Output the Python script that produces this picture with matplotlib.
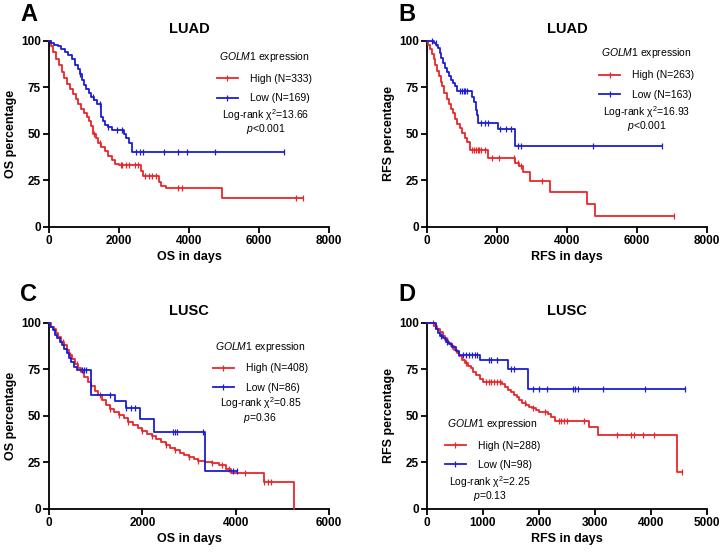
import numpy as np
import matplotlib
matplotlib.use("Agg")
import matplotlib.pyplot as plt
from matplotlib.lines import Line2D

plt.rcParams['font.family'] = ['Liberation Sans', 'DejaVu Sans']
plt.rcParams['mathtext.fontset'] = 'custom'
plt.rcParams['mathtext.it'] = 'Liberation Sans:italic'
plt.rcParams['mathtext.rm'] = 'Liberation Sans'

RED = '#e8262b'
BLUE = '#1c1cd6'

# ---- Panel A: LUAD OS ----
a_high_t = [0, 50, 120, 200, 280, 360, 440, 520, 600, 680, 760, 840, 920, 1000, 1080, 1150,
            1200, 1260, 1330, 1410, 1500, 1600, 1700, 1800, 1900, 2000, 2620, 2680, 3150, 3200,
            3350, 4950]
a_high_s = [100, 97, 94, 90, 87, 83.5, 80, 77, 74, 71.5, 68.5, 66, 63.5, 61, 59, 57,
            54, 50, 48, 45, 43, 41, 38, 36, 34, 33, 30, 27.5, 24, 22, 20.8, 15.7]
a_high_end = 7250
a_high_cens = [1300, 1450, 2050, 2100, 2200, 2300, 2450, 2550, 2750, 2850, 2950, 3050, 3700,
               3800, 7050, 7250]
a_low_t = [0, 60, 150, 250, 350, 450, 550, 650, 750, 820, 880, 950, 1000, 1060, 1130, 1200,
           1280, 1380, 1500, 1540, 1600, 1700, 1800, 2150, 2200, 2300, 2380]
a_low_s = [100, 99, 98, 97, 95.5, 94, 92.5, 90, 87, 85, 82, 79, 76, 74, 72, 70,
           68, 66, 59, 57, 55, 53.5, 52, 50, 48, 45, 40]
a_low_end = 6700
a_low_cens = [900, 1250, 1450, 1700, 1950, 2100, 2500, 2600, 2700, 3300, 3700, 3950, 4750, 6700]

# ---- Panel B: LUAD RFS ----
b_high_t = [0, 40, 90, 140, 190, 240, 290, 340, 390, 440, 500, 560, 620, 680, 740, 800, 870,
            940, 1010, 1080, 1150, 1230, 1750, 2520, 2620, 2750, 2940, 3520, 4580, 4800]
b_high_s = [100, 98, 95.5, 93, 90, 87, 84, 81, 78, 75.5, 72, 69, 66, 63.5, 61, 58, 55.5,
            53, 50.5, 48, 45.5, 41.5, 37, 34.5, 32.5, 29.5, 24.5, 18.5, 12.3, 6.1]
b_high_end = 7050
b_high_cens = [1300, 1350, 1400, 1450, 1500, 1550, 1650, 1850, 2050, 2500, 2600, 2700, 3300,
               7050]
b_low_t = [0, 200, 260, 310, 360, 410, 460, 510, 560, 620, 680, 740, 800, 860, 1300, 1350,
           1400, 1440, 1470, 2030, 2520]
b_low_s = [100, 99, 98, 96, 93.5, 91, 88, 85.5, 83, 81, 79, 77.5, 75.5, 73, 70, 67,
           63, 60, 56, 52.5, 43.5]
b_low_end = 6700
b_low_cens = [150, 250, 950, 1000, 1050, 1100, 1150, 1550, 1650, 1750, 2100, 2250, 2400, 2600,
              2700, 4750, 6700]

# ---- Panel C: LUSC OS ----
c_high_t = [0, 50, 100, 150, 200, 260, 320, 380, 440, 500, 560, 620, 690, 760, 830, 900, 980,
            1060, 1140, 1220, 1300, 1400, 1500, 1600, 1700, 1800, 1900, 2000, 2100, 2200, 2300,
            2400, 2500, 2600, 2700, 2800, 2900, 3000, 3100, 3200, 3350, 3500, 3650, 3800, 3900,
            4600, 5260]
c_high_s = [100, 98, 96.5, 94.5, 92.5, 90, 88, 85.5, 83, 80.5, 78, 76, 73.5, 71, 68.5, 66, 63.5,
            61, 58.5, 56, 53.5, 52, 50.5, 49, 47, 45, 43.5, 42, 40.5, 39, 37.5,
            36, 34.5, 33, 31.5, 30, 29, 28, 27, 26, 25, 24.5, 23.5, 21.5, 19.5,
            14.3, 0]
c_high_end = 5260
c_high_cens = [300, 450, 600, 900, 1100, 1300, 1500, 1700, 2000, 2200, 2500, 2700, 3000, 3200,
               3500, 3700, 3850, 4200, 4600, 4700, 4750]
c_low_t = [0, 30, 80, 130, 180, 230, 280, 330, 380, 430, 480, 540, 600, 910, 1420, 1640, 1960,
           2250, 3350]
c_low_s = [100, 98, 96, 93.5, 92, 90, 88, 86, 84, 81, 79, 76.5, 74.5, 61, 58, 54, 48.5,
           41.5, 20.5]
c_low_end = 4020
c_low_cens = [700, 750, 800, 1300, 1650, 1750, 1850, 2650, 2700, 2750, 3300, 3950, 4020]

# ---- Panel D: LUSC RFS ----
d_high_t = [0, 130, 180, 230, 280, 330, 380, 430, 480, 530, 580, 630, 680, 730, 780, 830, 880,
            940, 1000, 1340, 1400, 1450, 1500, 1550, 1600, 1650, 1700, 1760, 1820, 1880, 1940,
            2000, 2160, 2220, 2290, 2900, 3060, 4460]
d_high_s = [100, 98.5, 97, 95, 93, 91, 89, 87.5, 85.5, 84, 82, 80, 78.5, 77, 75.5, 73.5, 72,
            70, 68.5, 67, 65.5, 64, 63, 61.5, 60, 58.5, 57, 56, 55, 54, 53,
            52, 51, 49.5, 47.5, 43.8, 39.6, 20]
d_high_end = 4560
d_high_cens = [100, 150, 350, 450, 700, 1050, 1100, 1150, 1200, 1250, 1300, 1750, 1900, 2100,
               2350, 2400, 2450, 2500, 2800, 3400, 3650, 3700, 3850, 4050, 4560]
d_low_t = [0, 160, 200, 240, 290, 340, 400, 450, 510, 580, 940, 1450, 1800]
d_low_s = [100, 97, 94.5, 93, 92, 90, 88.5, 87, 85, 82.5, 80, 75.3, 64.7]
d_low_end = 4600
d_low_cens = [250, 350, 650, 700, 750, 800, 850, 900, 1100, 1150, 1250, 1500, 1550, 1900, 2000,
              2150, 2600, 2650, 2700, 3150, 3900, 4600]

panels = [
    dict(letter='A', title='LUAD', xlabel='OS in days', ylabel='OS percentage', xmax=8000,
         xticks=[0, 2000, 4000, 6000, 8000],
         high=(a_high_t, a_high_s, a_high_end, a_high_cens),
         low=(a_low_t, a_low_s, a_low_end, a_low_cens),
         n=('High (N=333)', 'Low (N=169)'), stat='Log-rank χ$^2$=13.66', p='$\\mathit{p}$<0.001',
         leg=(0.77, 0.95), txt=(0.775, 0.60, 0.525)),
    dict(letter='B', title='LUAD', xlabel='RFS in days', ylabel='RFS percentage', xmax=8000,
         xticks=[0, 2000, 4000, 6000, 8000],
         high=(b_high_t, b_high_s, b_high_end, b_high_cens),
         low=(b_low_t, b_low_s, b_low_end, b_low_cens),
         n=('High (N=263)', 'Low (N=163)'), stat='Log-rank χ$^2$=16.93', p='$\\mathit{p}$<0.001',
         leg=(0.785, 0.97), txt=(0.785, 0.615, 0.54)),
    dict(letter='C', title='LUSC', xlabel='OS in days', ylabel='OS percentage', xmax=6000,
         xticks=[0, 2000, 4000, 6000],
         high=(c_high_t, c_high_s, c_high_end, c_high_cens),
         low=(c_low_t, c_low_s, c_low_end, c_low_cens),
         n=('High (N=408)', 'Low (N=86)'), stat='Log-rank χ$^2$=0.85', p='$\\mathit{p}$=0.36',
         leg=(0.755, 0.91), txt=(0.755, 0.57, 0.49)),
    dict(letter='D', title='LUSC', xlabel='RFS in days', ylabel='RFS percentage', xmax=5000,
         xticks=[0, 1000, 2000, 3000, 4000, 5000],
         high=(d_high_t, d_high_s, d_high_end, d_high_cens),
         low=(d_low_t, d_low_s, d_low_end, d_low_cens),
         n=('High (N=288)', 'Low (N=98)'), stat='Log-rank χ$^2$=2.25', p='$\\mathit{p}$=0.13',
         leg=(0.235, 0.495), txt=(0.225, 0.145, 0.07)),
]

fig = plt.figure(figsize=(7.2, 5.52), dpi=100)
positions = [(0.068, 0.589), (0.593, 0.589), (0.068, 0.078), (0.593, 0.078)]
letter_pos = [(0.028, 0.962), (0.553, 0.962), (0.028, 0.455), (0.553, 0.455)]


def draw_curve(ax, t, s, end, cens, color):
    tt = list(t) + [end]
    ss = list(s) + [s[-1]]
    ax.step(tt, ss, where='post', color=color, lw=1.3, clip_on=False, zorder=3)
    idx = np.searchsorted(np.array(t), np.array(cens), side='right') - 1
    cy = np.array(s)[idx]
    ax.plot(cens, cy, ls='none', marker='|', ms=4.5, mew=0.9, color=color, clip_on=False,
            zorder=3)


for p, (x0, y0), (lx, ly) in zip(panels, positions, letter_pos):
    ax = fig.add_axes([x0, y0, 0.389, 0.337])
    draw_curve(ax, *p['high'], RED)
    draw_curve(ax, *p['low'], BLUE)
    ax.set_xlim(0, p['xmax'])
    ax.set_ylim(0, 100)
    ax.set_xticks(p['xticks'])
    ax.set_yticks([0, 25, 50, 75, 100])
    for side in ['top', 'right']:
        ax.spines[side].set_visible(False)
    for side in ['left', 'bottom']:
        ax.spines[side].set_linewidth(1.3)
    ax.tick_params(width=1.3, length=4, labelsize=8.5, pad=2)
    for lab in ax.get_xticklabels() + ax.get_yticklabels():
        lab.set_fontweight('bold')
    ax.set_xlabel(p['xlabel'], fontsize=9, fontweight='bold', labelpad=3)
    ax.set_ylabel(p['ylabel'], fontsize=9, fontweight='bold', labelpad=3)
    ax.set_title(p['title'], fontsize=10.5, fontweight='bold', pad=6)

    handles = [Line2D([], [], color=RED, lw=1.3, marker='|', ms=4.5, mew=0.9),
               Line2D([], [], color=BLUE, lw=1.3, marker='|', ms=4.5, mew=0.9)]
    leg = ax.legend(handles, p['n'], title='$\\mathit{GOLM1}$ expression', frameon=False,
                    loc='upper center', bbox_to_anchor=p['leg'], fontsize=7.5,
                    title_fontsize=7.5, handlelength=2.0, handletextpad=1.2,
                    labelspacing=0.9, borderpad=0, borderaxespad=0)
    leg._legend_box.sep = 7
    tx, ty1, ty2 = p['txt']
    ax.text(tx, ty1, p['stat'], transform=ax.transAxes, ha='center', va='center', fontsize=7.5)
    ax.text(tx, ty2, p['p'], transform=ax.transAxes, ha='center', va='center', fontsize=7.5)

    fig.text(lx, ly, p['letter'], fontsize=17, fontweight='bold', ha='left', va='baseline')

fig.savefig('out.png', dpi=100)
